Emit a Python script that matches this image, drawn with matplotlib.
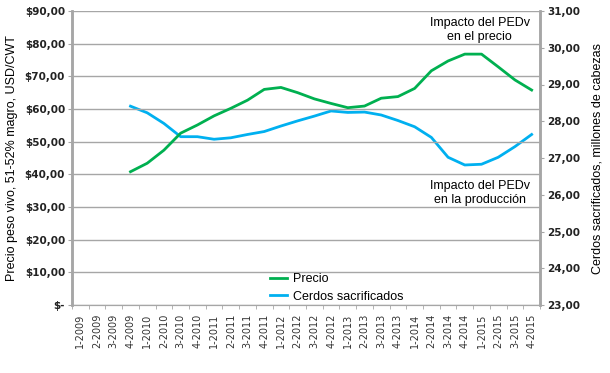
import matplotlib
matplotlib.use("Agg")
import matplotlib.pyplot as plt
import numpy as np

quarters = [f"{q}-{y}" for y in range(2009, 2016) for q in range(1, 5)]

precio = [None, None, None, 40.8, 43.4, 47.4, 52.6, 55.1, 57.9, 60.2, 62.7, 66.0,
          66.6, 65.0, 63.1, 61.7, 60.4, 60.9, 63.3, 63.8, 66.3, 71.7, 74.7, 76.8,
          76.8, 72.9, 68.9, 65.8]
cerdos = [None, None, None, 28.41, 28.23, 27.94, 27.58, 27.58, 27.51, 27.55, 27.64, 27.72,
          27.87, 28.01, 28.14, 28.28, 28.24, 28.25, 28.17, 28.02, 27.85, 27.56, 27.02, 26.81,
          26.83, 27.02, 27.31, 27.64]

left_ticks = [0, 10, 20, 30, 40, 50, 60, 70, 80, 90]
left_labels = ["$-", "$10,00", "$20,00", "$30,00", "$40,00", "$50,00", "$60,00",
               "$70,00", "$80,00", "$90,00"]
right_ticks = [23, 24, 25, 26, 27, 28, 29, 30, 31]
right_labels = ["23,00", "24,00", "25,00", "26,00", "27,00", "28,00", "29,00", "30,00", "31,00"]

green = "#00B050"
cyan = "#00B0F0"
gridc = "#A6A6A6"

fig = plt.figure(figsize=(6.10, 3.73), dpi=100)
ax = fig.add_axes([72/610, 68/373, 468/610, 294/373])
ax2 = ax.twinx()

x = np.arange(len(quarters))
p = np.array([np.nan if v is None else v for v in precio], dtype=float)
c = np.array([np.nan if v is None else v for v in cerdos], dtype=float)

lp, = ax.plot(x, p, color=green, lw=2.0, label="Precio", solid_joinstyle="round")
lc, = ax2.plot(x, c, color=cyan, lw=2.0, label="Cerdos sacrificados", solid_joinstyle="round")
ax.set_zorder(ax2.get_zorder() + 1)
ax.patch.set_visible(False)

ax.set_xlim(-0.5, len(quarters) - 0.5)
ax.set_ylim(0, 90)
ax2.set_ylim(23, 31)

ax.set_yticks(left_ticks)
ax.set_yticklabels(left_labels, fontsize=7.5, fontweight="bold", color="#222222")
ax2.set_yticks(right_ticks)
ax2.set_yticklabels(right_labels, fontsize=7.5, fontweight="bold", color="#222222")

ax.grid(axis="y", color=gridc, lw=1)
ax.set_axisbelow(True)

ax.set_xticks(x)
ax.set_xticklabels(quarters, rotation=90, fontsize=7, color="#333333", family="DejaVu Sans")
ax.set_xticks(np.arange(-0.5, len(quarters), 1), minor=True)
ax.tick_params(axis="x", which="major", length=0, pad=6)
ax.tick_params(axis="x", which="minor", length=3, color=gridc)
ax.tick_params(axis="y", length=3, color=gridc, pad=2)
ax2.tick_params(axis="y", length=3, color=gridc, pad=2)

for a in (ax, ax2):
    a.spines["top"].set_visible(False)
    a.spines["left"].set_color(gridc)
    a.spines["right"].set_color(gridc)
    a.spines["bottom"].set_color(gridc)
    a.spines["left"].set_linewidth(1.8)
    a.spines["right"].set_linewidth(1.8)

ax.set_ylabel("Precio peso vivo, 51-52% magro, USD/CWT", fontsize=9,
              family="Liberation Sans", labelpad=5)
ax2.set_ylabel("Cerdos sacrificados, millones de cabezas", fontsize=9,
               family="Liberation Sans", labelpad=8)

ax.text(0.978, 0.98, "Impacto del PEDv\nen el precio", transform=ax.transAxes,
        ha="right", va="top", multialignment="center", fontsize=9,
        family="Liberation Sans", linespacing=1.2)
ax.text(0.978, 0.425, "Impacto del PEDv\nen la producción", transform=ax.transAxes,
        ha="right", va="top", multialignment="center", fontsize=9,
        family="Liberation Sans", linespacing=1.2)

leg = ax.legend(handles=[lp, lc], loc="lower left", bbox_to_anchor=(0.40, -0.03),
                frameon=False, handlelength=1.3, handletextpad=0.5,
                labelspacing=0.45, prop={"family": "Liberation Sans", "size": 9})

fig.savefig("out.png", dpi=100)
